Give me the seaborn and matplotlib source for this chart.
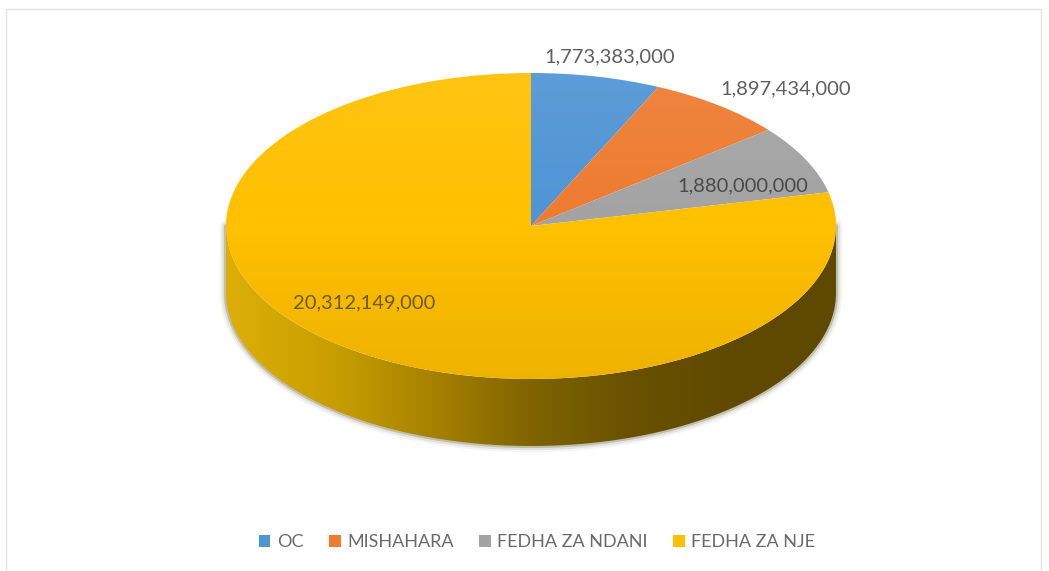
import numpy as np
import seaborn as sns
import matplotlib
matplotlib.use('Agg')
import matplotlib.pyplot as plt
from matplotlib.patches import PathPatch, Rectangle
from matplotlib.path import Path

categories = ['OC', 'MISHAHARA', 'FEDHA ZA NDANI', 'FEDHA ZA NJE']
amounts = [1773383000, 1897434000, 1880000000, 20312149000]
slice_colors = ['#4F94D4', '#EE7B30', '#A3A3A3', '#FFC000']

# pie position in image pixels
W, H = 1049, 571
CX, CY, RX, RY = 531, 226, 305, 153
DEPTH = 67 / RY


def px(x, y):
    return (x - CX) / RX, (CY - y) / RY


sns.set_theme(style='white')
plt.rcParams['font.family'] = ['Lato', 'DejaVu Sans']

fig = plt.figure(figsize=(W / 100, H / 100), dpi=100)
ax = fig.add_axes([0, 0, 1, 1])
ax.axis('off')

wedges, _ = ax.pie(amounts, colors=slice_colors, startangle=90, counterclock=False,
                   radius=1, center=(0, 0), wedgeprops={'linewidth': 0, 'zorder': 3})
ax.set_aspect('auto')
x0, y1 = px(0, 0)
x1, y0 = px(W, H)
ax.set_xlim(x0, x1)
ax.set_ylim(y0, y1)

# soft edge below the pie wall
t = np.linspace(np.pi, 2 * np.pi, 200)
bx, by = np.cos(t), np.sin(t)
band = np.concatenate([np.column_stack([bx, by]),
                       np.column_stack([bx[::-1], by[::-1] - DEPTH])])
for lw, alpha in [(9, 0.05), (6, 0.09), (3, 0.20)]:
    ax.plot(np.r_[-1, bx, 1], np.r_[0, by - DEPTH, 0], color='#3A3000', lw=lw, alpha=alpha, zorder=1)

# wall of the pie, gradient left to right
wall_cmap = sns.blend_palette(['#DDAE08', '#C9A000', '#A88300', '#7F6400', '#695100', '#604A00', '#5E4900'],
                              as_cmap=True)
wall = ax.imshow(np.linspace(0, 1, 256)[None, :], cmap=wall_cmap, extent=(-1, 1, -1 - DEPTH, 0),
                 aspect='auto', zorder=2)
wall_clip = PathPatch(Path(band), transform=ax.transData, fc='none', ec='none')
ax.add_patch(wall_clip)
wall.set_clip_path(wall_clip)

# light from above on the top face
shade = np.zeros((256, 1, 4))
ramp = np.linspace(1, -1, 256)
shade[:, 0, :3] = np.where(ramp[:, None] > 0, 1.0, 0.0)
shade[:, 0, 3] = np.where(ramp > 0, 0.08 * ramp, 0.07 * -ramp)
top = ax.imshow(shade, extent=(-1, 1, -1, 1), aspect='auto', zorder=4)
top_clip = PathPatch(Path.unit_circle(), transform=ax.transData, fc='none', ec='none')
ax.add_patch(top_clip)
top.set_clip_path(top_clip)
ax.set_xlim(x0, x1)
ax.set_ylim(y0, y1)

# value labels
label_pos = [(610, 57), (786, 89), (743, 186), (364, 303)]
label_colors = ['#5F5F5F', '#5F5F5F', '#4A4A4A', '#6E5A10']
for value, pos, col in zip(amounts, label_pos, label_colors):
    ax.text(*px(*pos), f'{value:,}', ha='center', va='center', fontsize=14.5, color=col, zorder=5)

legend = ax.legend(wedges, categories, loc='center', bbox_to_anchor=px(537, 542),
                   bbox_transform=ax.transData, ncol=4, frameon=False, fontsize=13,
                   labelcolor='#6A6A6A', handlelength=0.65, handleheight=0.65,
                   handletextpad=0.35, columnspacing=1.42)

# chart frame
fig.add_artist(Rectangle((6 / W, -0.01), (1041 - 6) / W, 1.01 - 9 / H, transform=fig.transFigure,
                         fc='none', ec='#E4E4E4', lw=1))

fig.savefig('out.png', dpi=100)
